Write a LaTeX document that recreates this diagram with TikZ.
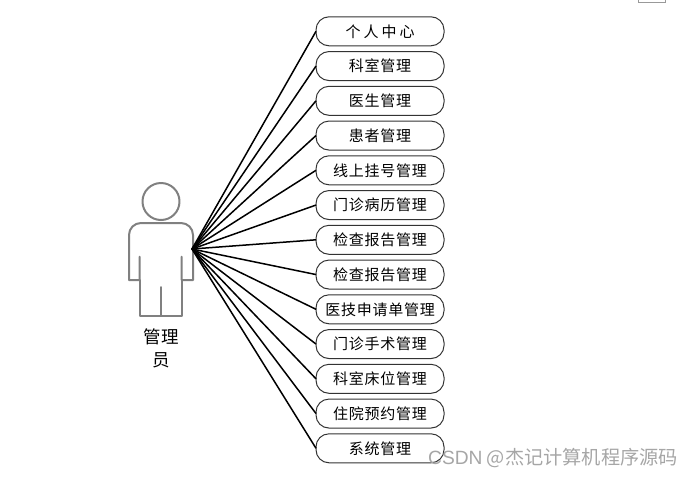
\documentclass[tikz,border=0pt]{standalone}
\usepackage{fontspec}
\usepackage{xcolor}
\usetikzlibrary{positioning}
\newfontfamily\cjk[LetterSpace=5]{Noto Sans CJK SC}
\newfontfamily\cjkwide[LetterSpace=20]{Noto Sans CJK SC}
\newfontfamily\cjkmark{Noto Sans CJK SC}
\setsansfont{Liberation Sans}
\definecolor{figgray}{HTML}{808080}
\definecolor{markgray}{HTML}{A6A6A6}

\begin{document}
\begin{tikzpicture}[
      x=1pt, y=-1pt,
      font=\fontsize{15}{18}\cjk,
      func/.style={draw=black!80, line width=1pt, rounded corners=13pt, align=center, minimum width=128pt, minimum height=29pt, inner sep=0pt, outer sep=0pt},
      link/.style={line width=1.5pt, black},
      figure/.style={draw=figgray, line width=2pt, line join=round, line cap=round}
    ]
      \useasboundingbox (0,0) rectangle (693,477);

      % actor
      \node[figure, circle, minimum size=37pt, inner sep=0pt] (head) at (161,201.5) {};
      \draw[figure] (139.7,256.7) -- (139.7,280) -- (129,280) -- (129,235) arc[start angle=180, end angle=90, radius=12pt]
        -- (181,223) arc[start angle=90, end angle=0, radius=12pt] -- (193,280) -- (181.7,280) -- (181.7,256.7);
      \draw[figure] (139.7,280) -- (139.7,315.7) -- (181.7,315.7) -- (181.7,280);
      \draw[figure] (161,287) -- (161,315.7);
      \node[align=center, font=\fontsize{17.5}{23}\cjkmark] (actor) at (161,348.5) {管理\\员};
      \coordinate (hub) at (192,249);

      % functions
      \node[func] (center) at (380,31.3) {\cjkwide 个人中心};
      \node[func, below=5.75pt of center] (dept) {科室管理};
      \node[func, below=5.75pt of dept] (doctor) {医生管理};
      \node[func, below=5.75pt of doctor] (patient) {患者管理};
      \node[func, below=5.75pt of patient] (online) {线上挂号管理};
      \node[func, below=5.75pt of online] (record) {门诊病历管理};
      \node[func, below=5.75pt of record] (reporta) {检查报告管理};
      \node[func, below=5.75pt of reporta] (reportb) {检查报告管理};
      \node[func, below=5.75pt of reportb] (request) {医技申请单管理};
      \node[func, below=5.75pt of request] (surgery) {门诊手术管理};
      \node[func, below=5.75pt of surgery] (bed) {科室床位管理};
      \node[func, below=5.75pt of bed] (booking) {住院预约管理};
      \node[func, below=5.75pt of booking] (system) {系统管理};

      \foreach \name in {center,dept,doctor,patient,online,record,reporta,reportb,request,surgery,bed,booking,system}
        \draw[link] (hub) -- (\name.west);

      % leftovers of the screenshot
      \draw[draw=black!40, line width=0.7pt] (638,0) -- (638,2.5) -- (665,2.5) -- (665,0);
      \node[text=markgray, font=\fontsize{19.2}{22}\cjkmark, anchor=east, inner sep=0pt] (mark) at (678,458) {{\sffamily CSDN} @杰记计算机程序源码};
    \end{tikzpicture}
\end{document}
